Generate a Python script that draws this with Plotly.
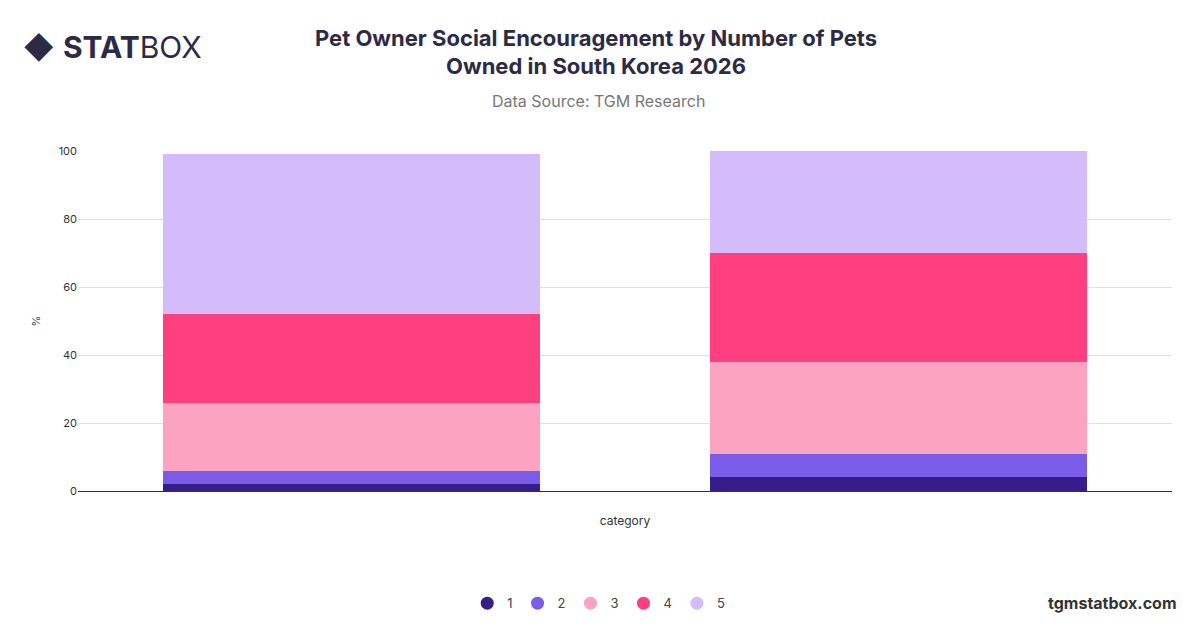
import plotly.graph_objects as go

categories = ["1 pet", "2+ pets"]
series_names = ["1", "2", "3", "4", "5"]
values = {
    "1": [2, 4],
    "2": [4, 7],
    "3": [20, 27],
    "4": [26, 32],
    "5": [47, 30],
}
colors = ["#371d87", "#7b5ce9", "#fba3c1", "#ff3f80", "#d4bcfa"]

fig = go.Figure()
for name, c in zip(series_names, colors):
    fig.add_trace(go.Bar(x=categories, y=values[name], name=name, marker_color=c,
                         marker_line_width=0, showlegend=False, legendgroup=name))
for name, c in zip(series_names, colors):
    fig.add_trace(go.Scatter(x=[categories[0]], y=[None], mode="markers", name=name,
                             legendgroup=name, marker=dict(color=c, size=13, symbol="circle")))

fig.update_layout(
    width=1200, height=628, barmode="stack", bargap=0.31,
    paper_bgcolor="white", plot_bgcolor="white",
    font=dict(family="Inter, Roboto, sans-serif", color="#444"),
    margin=dict(l=70, r=36, t=143, b=145, autoexpand=False),
    title=dict(text="<b>Pet Owner Social Encouragement by Number of Pets<br>Owned in South Korea 2026</b>",
               x=0.49, xanchor="center", y=0.94, yanchor="top",
               font=dict(size=22, color="#2d2a45")),
    legend=dict(orientation="h", x=0.476, xanchor="center", y=-0.33, yanchor="middle",
                font=dict(size=13, color="#444"), traceorder="normal"),
    xaxis=dict(showticklabels=False, title=dict(text="category", font=dict(size=12, color="#333"), standoff=25),
               showline=True, linecolor="#333", linewidth=1, ticks=""),
    yaxis=dict(range=[0, 100], dtick=20, gridcolor="#e0e0e0", zeroline=False,
               title=dict(text="%", font=dict(size=11, color="#444")),
               tickfont=dict(size=11, color="#333")),
)
fig.add_annotation(text="Data Source: TGM Research", xref="paper", yref="paper",
                   x=0.476, y=1.0, xanchor="center", yanchor="middle", yshift=50,
                   showarrow=False, font=dict(size=16, color="#777"))
fig.add_annotation(text="◆ <b>STAT</b>BOX", xref="paper", yref="paper", x=-0.052, y=1.305,
                   xanchor="left", yanchor="middle", showarrow=False,
                   font=dict(size=30, color="#2d2a45"))
fig.add_annotation(text="<b>tgmstatbox.com</b>", xref="paper", yref="paper", x=1.006, y=-0.33,
                   xanchor="right", yanchor="middle", showarrow=False,
                   font=dict(size=16, color="#333"))
fig.write_html("out.html")
